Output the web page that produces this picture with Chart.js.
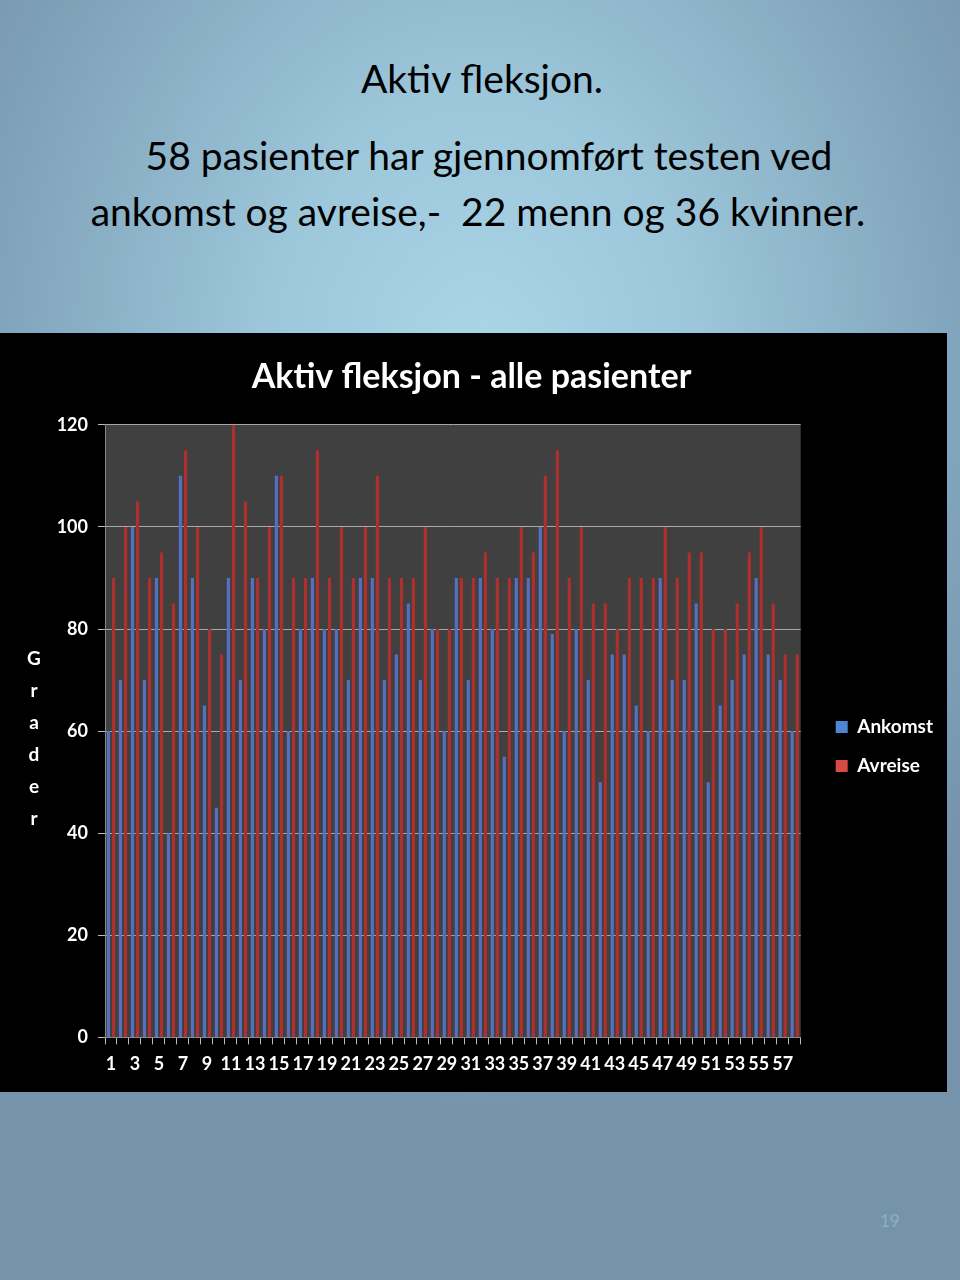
<!DOCTYPE html>
<html><head><meta charset="utf-8">
<script src="https://cdn.jsdelivr.net/npm/chart.js@4.4.1/dist/chart.umd.min.js"></script>
<style>
html,body{margin:0;padding:0;}
body{width:960px;height:1280px;position:relative;overflow:hidden;
background:radial-gradient(ellipse 620px 760px at 480px 360px,#aad6e8 0%,#9cc6da 35%,#82a6bd 75%,#7593ab 100%);
font-family:Lato,"Liberation Sans",sans-serif;}
.t{position:absolute;left:0;width:960px;text-align:center;color:#000;font-size:39px;white-space:pre;line-height:1;}
#box{position:absolute;left:0;top:333px;width:947px;height:759px;background:#000;}
#yt{position:absolute;left:24px;top:642px;width:20px;color:#fff;font-weight:bold;font-size:19px;text-align:center;line-height:32px;font-family:Lato,sans-serif;}
#pg{position:absolute;left:880px;top:1210px;color:#8fb0c4;font-size:17px;}
</style></head><body>
<div class="t" style="top:59px;left:2px">Aktiv fleksjon.</div>
<div class="t" style="top:136px;left:4px"> 58 pasienter har gjennomført testen ved</div>
<div class="t" style="top:192px;left:-2px">ankomst og avreise,-  22 menn og 36 kvinner.</div>
<div id="box"><canvas id="c" width="947" height="759"></canvas></div>
<div id="yt">G<br>r<br>a<br>d<br>e<br>r</div>
<div id="pg">19</div>
<script>
const categories = Array.from({length:58},(_,i)=>String(i+1));
const ankomst = [60,70,100,70,90,40,110,90,65,45,90,70,90,80,110,60,80,90,80,80,70,90,90,70,75,85,70,80,60,90,70,90,80,55,90,90,100,79,60,80,70,50,75,75,65,60,90,70,70,85,50,65,70,75,90,75,70,60];
const avreise = [90,100,105,90,95,85,115,100,80,75,120,105,90,100,110,90,90,115,90,100,90,100,110,90,90,90,100,80,80,90,90,95,90,90,100,95,110,115,90,100,85,85,80,90,90,90,100,90,95,95,80,80,85,95,100,85,75,75];
const yTicks = [0,20,40,60,80,100,120];

const plotBg = {id:'plotBg',beforeDraw(ch){const a=ch.chartArea,c=ch.ctx;c.save();c.fillStyle='#404040';c.fillRect(a.left,a.top,a.right-a.left,a.bottom-a.top);c.restore();}};

new Chart(document.getElementById('c'),{
  type:'bar',
  data:{labels:categories,datasets:[
    {label:'Ankomst',data:ankomst,backgroundColor:'#5670c0',borderWidth:0,barPercentage:0.62,categoryPercentage:0.85},
    {label:'Avreise',data:avreise,backgroundColor:'#ad302c',borderWidth:0,barPercentage:0.62,categoryPercentage:0.85}
  ]},
  plugins:[plotBg],
  options:{
    responsive:false,animation:false,devicePixelRatio:1,
    layout:{padding:{top:6,bottom:8,left:0,right:4}},
    plugins:{
      title:{display:true,text:'Aktiv fleksjon - alle pasienter',color:'#fff',font:{family:'Lato',size:34,weight:'bold'},padding:{top:18,bottom:27}},
      legend:{position:'right',
        title:{display:true,text:' ',font:{size:10},padding:{top:58,bottom:0}},
        labels:{color:'#fff',font:{family:'Lato',size:19,weight:'bold'},boxWidth:12,boxHeight:12,padding:20,
        generateLabels:(ch)=>ch.data.datasets.map((d,i)=>({text:d.label,fillStyle:i?'#d84a44':'#4f86d4',strokeStyle:'#000',lineWidth:0,datasetIndex:i,fontColor:'#fff'}))}},
      tooltip:{enabled:false}
    },
    scales:{
      x:{grid:{display:true,drawOnChartArea:false,drawTicks:true,tickLength:7,color:'#bbb',offset:true},
         border:{color:'#888'},
         ticks:{color:'#fff',font:{family:'Lato',size:18,weight:'bold'},autoSkip:false,maxRotation:0,padding:9,
           callback:function(v,i){return i%2===0?categories[i]:'';}}},
      y:{min:0,max:120,afterFit:(s)=>{s.width=105;},
         afterBuildTicks:(s)=>{s.ticks=yTicks.map(v=>({value:v}));},
         grid:{color:'#a8a8a8',tickLength:7,tickColor:'#bbb'},
         border:{color:'#888'},
         ticks:{color:'#fff',font:{family:'Lato',size:18,weight:'bold'},padding:10}},
      yR:{position:'right',display:true,min:0,max:120,afterFit:(s)=>{s.width=15;},
         grid:{display:false},border:{display:false},ticks:{display:false}}
    }
  }
});
</script>
</body></html>
